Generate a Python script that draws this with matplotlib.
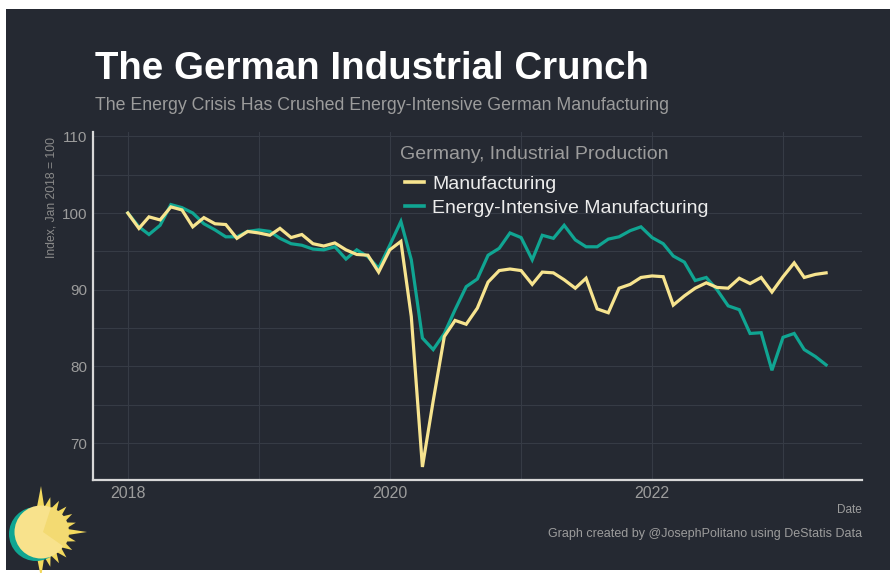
import numpy as np
import pandas as pd
import matplotlib
matplotlib.use('Agg')
import matplotlib.pyplot as plt
import matplotlib.dates as mdates
from matplotlib.patches import Rectangle, Circle, Polygon, Wedge
from matplotlib.lines import Line2D

plt.rcParams['font.family'] = ['Liberation Sans', 'DejaVu Sans']

# monthly index, Jan 2018 = 100
dates = pd.date_range('2018-01-01', periods=65, freq='MS')
manufacturing = [
    100.0, 98.0, 99.5, 99.1, 100.8, 100.4, 98.2, 99.4, 98.6, 98.5, 96.7, 97.6,
    97.4, 97.1, 98.0, 96.8, 97.2, 96.0, 95.7, 96.1, 95.2, 94.6, 94.5, 92.3,
    95.2, 96.3, 86.5, 66.9, 75.5, 83.9, 86.0, 85.5, 87.6, 91.0, 92.5, 92.7,
    92.5, 90.7, 92.3, 92.2, 91.3, 90.2, 91.5, 87.5, 87.0, 90.2, 90.7, 91.6,
    91.8, 91.7, 88.0, 89.2, 90.2, 90.9, 90.3, 90.2, 91.5, 90.8, 91.6, 89.7,
    91.7, 93.5, 91.6, 92.0, 92.2]
energy_intensive = [
    100.0, 98.2, 97.2, 98.4, 101.1, 100.7, 100.0, 98.6, 97.8, 96.9, 96.9, 97.6,
    97.8, 97.6, 96.7, 96.0, 95.8, 95.3, 95.2, 95.6, 94.0, 95.2, 94.3, 92.8,
    95.8, 98.9, 93.9, 83.7, 82.2, 84.3, 87.4, 90.4, 91.4, 94.5, 95.4, 97.4,
    96.8, 93.9, 97.1, 96.7, 98.4, 96.5, 95.6, 95.6, 96.6, 96.9, 97.7, 98.2,
    96.8, 96.0, 94.4, 93.6, 91.2, 91.6, 90.0, 87.9, 87.4, 84.3, 84.4, 79.5,
    83.8, 84.3, 82.2, 81.3, 80.2]
series_names = ['Manufacturing', 'Energy-Intensive Manufacturing']

BG = '#252932'
YELLOW = '#f7e48f'
TEAL = '#10a592'
GRID = '#363b45'
GRAY = '#9c9c9c'

W, H = 890, 573
fig = plt.figure(figsize=(W / 100, H / 100), dpi=100, facecolor='white')
fig.patches.append(Rectangle((6 / W, 3 / H), 884 / W, 561 / H, transform=fig.transFigure,
                             facecolor=BG, edgecolor='none', zorder=-10))

ax = fig.add_axes([93 / W, (H - 480) / H, (862 - 93) / W, (480 - 131.7) / H])
ax.set_facecolor(BG)
ax.plot(dates, manufacturing, color=YELLOW, lw=2.3, solid_joinstyle='miter', zorder=3)
ax.plot(dates, energy_intensive, color=TEAL, lw=2.3, solid_joinstyle='miter', zorder=2)

ax.set_xlim(pd.Timestamp('2017-09-26'), pd.Timestamp('2023-08-09'))
ax.set_ylim(65.2, 110.6)
ax.xaxis.set_major_locator(mdates.YearLocator(2))
ax.xaxis.set_minor_locator(mdates.YearLocator(1))
ax.xaxis.set_major_formatter(mdates.DateFormatter('%Y'))
ax.set_yticks([70, 80, 90, 100, 110])
ax.set_yticks([75, 85, 95, 105], minor=True)
ax.grid(True, which='both', color=GRID, lw=0.8)
ax.set_axisbelow(True)
ax.tick_params(which='both', length=0)
ax.tick_params(axis='y', labelsize=11, colors=GRAY, pad=4)
ax.tick_params(axis='x', labelsize=11.5, colors=GRAY, pad=4)
for s in ['top', 'right']:
    ax.spines[s].set_visible(False)
for s in ['left', 'bottom']:
    ax.spines[s].set_color('#d8d8d8')
    ax.spines[s].set_linewidth(1.6)

# legend title as its own text, entries below it
fig.text(400 / W, 1 - 159 / H, 'Germany, Industrial Production', fontsize=14,
         color=GRAY, va='baseline')
handles = [Line2D([], [], color=YELLOW, lw=2.6), Line2D([], [], color=TEAL, lw=2.6)]
leg = ax.legend(handles, series_names, loc='upper left', bbox_to_anchor=(405 / W, 1 - 175.5 / H),
                bbox_transform=fig.transFigure, frameon=False, fontsize=14,
                handlelength=1.0, handletextpad=0.4, labelspacing=0.32, borderpad=0,
                borderaxespad=0)
for t in leg.get_texts():
    t.set_color('#ececec')

fig.text(95 / W, 1 - 79 / H, 'The German Industrial Crunch', fontsize=27.7,
         fontweight='bold', color='white', va='baseline')
fig.text(95 / W, 1 - 110 / H,
         'The Energy Crisis Has Crushed Energy-Intensive German Manufacturing',
         fontsize=12.8, color=GRAY, va='baseline')
fig.text(52 / W, 1 - 198 / H, 'Index, Jan 2018 = 100', rotation=90, fontsize=8.7,
         color='#8a8a8a', ha='center', va='center')
fig.text(862 / W, 1 - 513 / H, 'Date', fontsize=8.5, color=GRAY, ha='right', va='baseline')
fig.text(862 / W, 1 - 537 / H, 'Graph created by @JosephPolitano using DeStatis Data',
         fontsize=9, color=GRAY, ha='right', va='baseline')

# sun logo, bottom left
lg = fig.add_axes([0, 0, 110 / W, 103 / H])
lg.set_xlim(0, 110)
lg.set_ylim(0, 103)
lg.axis('off')
cx, cy = 41, 41
pts = []
angles = np.arange(90, -91, -15)
for k, a in enumerate(angles):
    L = 46 if a in (90, 0, -90) else 36
    pts.append((cx + L * np.cos(np.radians(a)), cy + L * np.sin(np.radians(a))))
    if k < len(angles) - 1:
        b = a - 7.5
        pts.append((cx + 25 * np.cos(np.radians(b)), cy + 25 * np.sin(np.radians(b))))
pts.append((cx - 5, cy - 20))
pts.append((cx - 5, cy + 20))
lg.add_patch(Polygon(pts, closed=True, facecolor='#f3d95e', edgecolor='none'))
lg.add_patch(Circle((cx - 5, cy - 2), 27, facecolor=TEAL, edgecolor='none'))
lg.add_patch(Circle((cx, cy), 26.5, facecolor='#f8e28c', edgecolor='none'))
lg.add_patch(Wedge((cx + 2, cy), 26, -35, 72, facecolor='#f3da72', edgecolor='none'))

fig.savefig('out.png', dpi=100, facecolor=fig.get_facecolor())
